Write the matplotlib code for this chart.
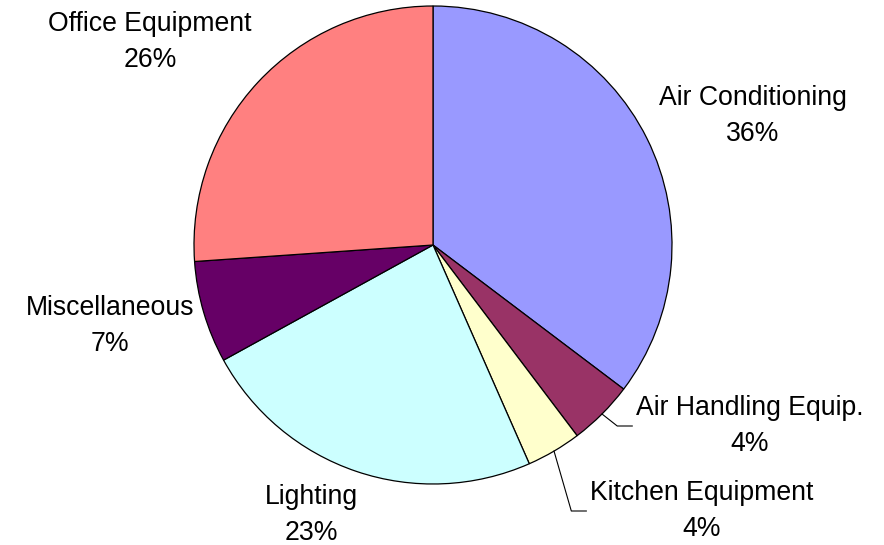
import numpy as np
import matplotlib.pyplot as plt

# energy use breakdown
categories = ["Air Conditioning", "Air Handling Equip.", "Kitchen Equipment",
              "Lighting", "Miscellaneous", "Office Equipment"]
# wedge sizes as measured off the drawing, and the printed percentages
shares = [35.3, 4.4, 3.7, 23.6, 6.9, 26.1]
pct_labels = [36, 4, 4, 23, 7, 26]
colors = ["#9999FF", "#993366", "#FFFFCC", "#CCFFFF", "#660066", "#FF8080"]

W, H = 884, 545
# label block centres in pixel coords (from top-left)
label_pos = [(753, 116), (750, 426), (702, 511), (311, 515), (110, 326), (150, 42)]
# which labels get a leader line
leader = [False, True, True, False, False, False]

plt.rcParams['font.family'] = ['Liberation Sans', 'DejaVu Sans']

fig = plt.figure(figsize=(W / 100, H / 100), dpi=100)
ax = fig.add_axes([0, 0, 1, 1])

cx, cy, r = 433, H - 245, 239
wedges, _ = ax.pie(shares, colors=colors, startangle=90, counterclock=False,
                   center=(cx, cy), radius=r,
                   wedgeprops=dict(edgecolor="black", linewidth=0.9))
ax.set_xlim(0, W)
ax.set_ylim(0, H)
ax.set_aspect("equal")
ax.axis("off")

fig.canvas.draw()
renderer = fig.canvas.get_renderer()

for w, name, val, (lx, ly), has_line in zip(wedges, categories, pct_labels, label_pos, leader):
    ty = H - ly
    t = ax.text(lx, ty, f"{name}\n{val}%", ha="center", va="center",
                fontsize=19.2, linespacing=1.5, color="black")
    if has_line:
        bb = t.get_window_extent(renderer)
        left = bb.x0  # figure pixels == data units here
        mid = np.deg2rad((w.theta1 + w.theta2) / 2)
        x0, y0 = cx + r * np.cos(mid), cy + r * np.sin(mid)
        ax.plot([x0, left - 19, left - 4], [y0, ty, ty], color="black", lw=0.8)

fig.savefig("out.png", dpi=100)
